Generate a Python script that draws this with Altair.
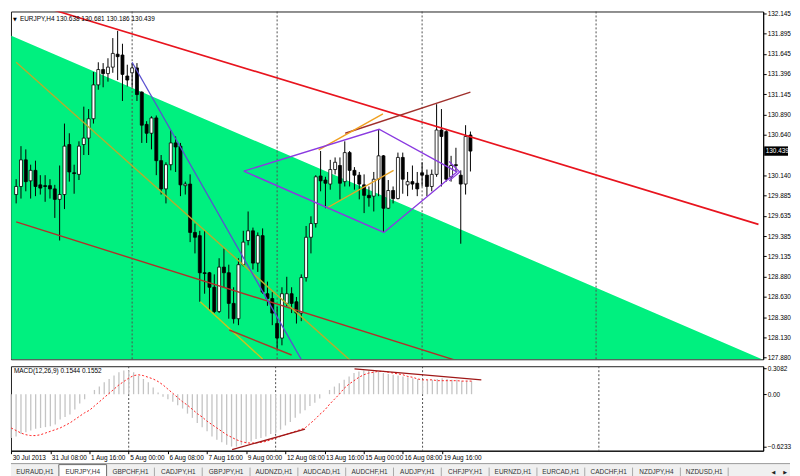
import json
import altair as alt
import pandas as pd

# ---------------- data ----------------
opens = [129.90, 130.00, 130.33, 130.07, 130.20, 130.02, 130.01, 130.01, 129.97, 129.84,
         129.90, 130.52, 130.17, 130.15, 130.52, 130.60, 130.84, 131.26, 131.45, 131.40,
         131.48, 131.64, 131.63, 131.37, 131.41, 131.47, 131.17, 130.77, 130.66, 130.85,
         130.32, 129.97, 130.27, 130.54, 130.50, 130.01, 130.03, 129.43, 129.39, 128.93,
         128.93, 128.75, 128.45, 129.00, 128.93, 128.55, 128.36, 129.03, 129.33, 129.45,
         129.05, 129.39, 128.67, 128.61, 128.30, 128.12, 128.55, 128.67, 128.57, 128.43,
         128.87, 129.37, 129.54, 130.13, 130.08, 130.03, 130.21, 130.26, 130.06, 130.42,
         130.20, 130.14, 130.02, 129.89, 129.88, 130.09, 130.38, 129.73, 129.95, 129.85,
         130.36, 130.02, 130.06, 130.04, 130.17, 130.14, 130.00, 130.15, 130.70, 130.68,
         130.12, 130.27, 130.14, 130.03, 130.638]
highs = [130.09, 130.50, 130.46, 130.27, 130.32, 130.14, 130.14, 130.09, 130.02, 130.26,
         130.78, 130.66, 130.27, 130.56, 130.99, 130.96, 131.42, 131.54, 131.53, 131.59,
         131.84, 131.93, 131.77, 131.51, 131.53, 131.53, 131.18, 130.81, 130.87, 130.88,
         130.39, 130.30, 130.70, 130.62, 130.54, 130.06, 130.15, 129.54, 129.45, 129.45,
         128.94, 128.91, 129.11, 129.23, 129.03, 128.75, 129.11, 129.45, 129.69, 129.49,
         129.43, 129.48, 128.82, 128.69, 128.51, 128.75, 128.88, 128.75, 128.63, 128.91,
         129.51, 129.63, 130.14, 130.44, 130.12, 130.33, 130.36, 130.36, 130.56, 130.44,
         130.24, 130.18, 130.15, 130.00, 130.18, 130.70, 130.39, 130.08, 130.00, 130.42,
         130.42, 130.18, 130.26, 130.18, 130.30, 130.21, 130.21, 131.02, 130.96, 130.70,
         130.38, 130.48, 130.20, 130.76, 130.681]
lows = [129.79, 129.85, 129.94, 129.85, 129.88, 129.90, 129.81, 129.85, 129.61, 129.33,
        129.72, 130.06, 129.91, 130.08, 130.39, 130.39, 130.78, 131.20, 131.23, 131.30,
        131.41, 131.32, 131.06, 131.24, 131.23, 131.06, 130.54, 130.54, 130.46, 130.14,
        129.90, 129.79, 130.20, 130.18, 129.88, 129.90, 129.31, 129.17, 128.57, 128.67,
        128.46, 128.43, 128.43, 128.75, 128.36, 128.30, 128.28, 129.01, 129.27, 128.97,
        128.94, 128.67, 128.52, 128.28, 127.98, 128.03, 128.51, 128.43, 128.30, 128.33,
        128.82, 129.17, 129.49, 129.94, 129.73, 129.96, 130.15, 129.84, 130.00, 130.00,
        129.96, 129.84, 129.67, 129.75, 129.69, 129.88, 129.43, 129.72, 129.79, 129.84,
        129.91, 129.88, 129.96, 129.88, 130.00, 129.88, 129.94, 130.12, 130.00, 130.06,
        130.06, 130.18, 129.29, 129.90, 130.186]
closes = [130.00, 130.33, 130.06, 130.20, 130.00, 129.98, 130.00, 129.97, 129.84, 129.90,
          130.50, 130.18, 130.16, 130.50, 130.60, 130.84, 131.26, 131.45, 131.40, 131.48,
          131.65, 131.61, 131.39, 131.32, 131.47, 131.14, 130.76, 130.66, 130.85, 130.32,
          129.97, 130.27, 130.54, 130.49, 130.02, 130.03, 129.43, 129.37, 128.93, 128.92,
          128.75, 128.45, 129.00, 128.93, 128.55, 128.36, 129.03, 129.31, 129.45, 129.05,
          129.39, 128.69, 128.61, 128.43, 128.12, 128.67, 128.67, 128.55, 128.43, 128.87,
          129.37, 129.54, 130.12, 130.07, 130.04, 130.21, 130.30, 130.04, 130.42, 130.20,
          130.14, 130.03, 129.89, 129.86, 130.09, 130.38, 129.73, 129.95, 129.85, 130.36,
          130.09, 130.06, 130.03, 129.97, 130.14, 130.00, 130.15, 130.70, 130.62, 130.09,
          130.26, 130.26, 130.03, 130.62, 130.439]

macd_main = [-0.52, -0.50, -0.47, -0.45, -0.43, -0.41, -0.40, -0.39, -0.38, -0.36,
             -0.30, -0.27, -0.24, -0.18, -0.11, -0.06, 0.00, 0.05, 0.09, 0.14,
             0.18, 0.22, 0.26, 0.28, 0.28, 0.26, 0.22, 0.18, 0.14, 0.08,
             0.02, -0.03, -0.06, -0.09, -0.13, -0.17, -0.23, -0.28, -0.34, -0.39,
             -0.44, -0.50, -0.54, -0.57, -0.60, -0.62, -0.62, -0.60, -0.58, -0.56,
             -0.53, -0.52, -0.50, -0.47, -0.46, -0.42, -0.37, -0.33, -0.28, -0.23,
             -0.19, -0.14, -0.10, -0.05, 0.00, 0.05, 0.09, 0.13, 0.17, 0.21,
             0.25, 0.27, 0.28, 0.28, 0.27, 0.27, 0.25, 0.24, 0.23, 0.22,
             0.21, 0.20, 0.19, 0.18, 0.17, 0.17, 0.17, 0.18, 0.19, 0.18,
             0.17, 0.17, 0.16, 0.16, 0.1544]
macd_signal = [-0.40, -0.43, -0.46, -0.48, -0.49, -0.49, -0.48, -0.46, -0.44, -0.42,
               -0.40, -0.37, -0.34, -0.30, -0.26, -0.22, -0.19, -0.14, -0.09, -0.04,
               0.01, 0.06, 0.11, 0.15, 0.19, 0.22, 0.23, 0.22, 0.20, 0.18,
               0.15, 0.11, 0.06, 0.01, -0.04, -0.09, -0.13, -0.18, -0.23, -0.27,
               -0.32, -0.36, -0.40, -0.44, -0.48, -0.51, -0.54, -0.56, -0.575, -0.58,
               -0.575, -0.57, -0.56, -0.54, -0.52, -0.50, -0.48, -0.46, -0.44, -0.42,
               -0.40, -0.35, -0.30, -0.24, -0.19, -0.12, -0.06, 0.00, 0.07, 0.12,
               0.16, 0.20, 0.23, 0.25, 0.26, 0.27, 0.27, 0.26, 0.25, 0.24,
               0.23, 0.21, 0.20, 0.18, 0.17, 0.17, 0.17, 0.16, 0.16, 0.16,
               0.16, 0.16, 0.155, 0.155, 0.1552]

price_ticks = [132.145, 131.895, 131.645, 131.396, 131.145, 130.890, 130.640,
               130.140, 129.885, 129.635, 129.385, 129.135, 128.880, 128.630, 128.380,
               128.130, 127.880]
macd_ticks = [0.3082, 0.0, -0.6233]
time_tick_bars = [0, 8, 16, 24, 32, 40, 48, 56, 64, 72, 80, 88]
time_tick_labels = ["30 Jul 2013", "31 Jul 08:00", "1 Aug 16:00", "5 Aug 00:00",
                    "6 Aug 08:00", "7 Aug 16:00", "9 Aug 00:00", "12 Aug 08:00",
                    "13 Aug 16:00", "15 Aug 00:00", "16 Aug 08:00", "19 Aug 16:00"]
separator_bars = [24, 54, 84, 120]
tab_names = ["EURAUD,H1", "EURJPY,H4", "GBPCHF,H1", "CADJPY,H1", "GBPJPY,H1",
             "AUDNZD,H1", "AUDCAD,H1", "AUDCHF,H1", "AUDJPY,H1", "CHFJPY,H1",
             "EURNZD,H1", "EURCAD,H1", "CADCHF,H1", "NZDJPY,H4", "NZDUSD,H1"]
active_tab = "EURJPY,H4"
last_price = 130.439
title_text = "EURJPY,H4  130.638 130.681 130.186 130.439"
macd_text = "MACD(12,26,9) 0.1544 0.1552"

# drawn objects: (bar index, price) points
green_edge = [(-1.0, 131.87), (155.0, 127.84)]
channel_top = [(0.0, 132.33), (153.6, 129.53)]
channel_bottom = [(0.0, 129.56), (95.4, 127.76)]
fan_line = [(0.0, 131.54), (70.7, 127.76)]
steep_line = [(24.0, 131.54), (59.9, 127.76)]
low_short_a = [(38.1, 128.57), (51.0, 127.86)]
low_short_b = [(44.1, 128.22), (57.0, 127.91)]
up_brown = [(68.1, 130.66), (94.0, 131.17)]
up_orange_a = [(62.6, 130.455), (75.9, 130.90)]
up_orange_b = [(64.2, 129.73), (78.1, 130.20)]
diamond = [(47.1, 130.19), (75.1, 130.71), (91.2, 130.18), (76.1, 129.43), (47.1, 130.19)]
wedge = [(89.6, 130.31), (91.8, 130.18), (89.6, 130.07)]
macd_line_a = [(45.1, -0.656), (60.0, -0.414)]
macd_line_b = [(70.1, 0.30), (96.0, 0.17)]

# ---------------- styling ----------------
GREEN = "#00F07F"
FONT = "Liberation Sans"
W, H1, H2 = 757, 350, 85
X_DOM = [-0.04, 153.55]
P_DOM = [127.857, 132.17]
M_DOM = [-0.669, 0.331]

line_styles = [
    ("channel_top", channel_top, "#E8141E", 1.6),
    ("channel_bottom", channel_bottom, "#B0302A", 1.4),
    ("fan_line", fan_line, "#B4AE2C", 1.4),
    ("steep_line", steep_line, "#5A50D0", 1.3),
    ("low_short_a", low_short_a, "#C8C41E", 1.4),
    ("low_short_b", low_short_b, "#A83A28", 1.4),
    ("up_brown", up_brown, "#A0302C", 1.4),
    ("up_orange_a", up_orange_a, "#F0A020", 1.4),
    ("up_orange_b", up_orange_b, "#E8A428", 1.4),
    ("diamond", diamond, "#8A3AE0", 1.4),
    ("wedge", wedge, "#8A3AE0", 1.2),
]

rows = []
for name, pts, col, w in line_styles:
    for k, (i, p) in enumerate(pts):
        rows.append({"seg": name, "k": k, "i": i, "p": p, "col": col, "w": w})
lines_df = pd.DataFrame(rows)

mrows = []
for name, pts in [("a", macd_line_a), ("b", macd_line_b)]:
    for k, (i, v) in enumerate(pts):
        mrows.append({"seg": name, "k": k, "i": i, "v": v})
mlines_df = pd.DataFrame(mrows)

n = len(opens)
cdf = pd.DataFrame({"i": list(range(n)), "o": opens, "h": highs, "l": lows, "c": closes})
cdf["fillc"] = ["white" if c >= o else "black" for o, c in zip(opens, closes)]
mdf = pd.DataFrame({"i": list(range(n)), "v": macd_main, "s": macd_signal})
gdf = pd.DataFrame({"i": [p[0] for p in green_edge], "p": [p[1] for p in green_edge]})
sdf = pd.DataFrame({"i": separator_bars})

xs = alt.Scale(domain=X_DOM, nice=False, zero=False)
ps = alt.Scale(domain=P_DOM, nice=False, zero=False)
ms = alt.Scale(domain=M_DOM, nice=False, zero=False)

price_axis = alt.Axis(orient="right", values=price_ticks, format=".3f", title=None, grid=False,
                      tickSize=3, labelPadding=1, labelFontSize=6.5, labelFont=FONT,
                      labelColor="black", domainColor="black", tickColor="black",
                      labelOverlap=False, labelFlush=False, zindex=0)
macd_axis = alt.Axis(orient="right", values=macd_ticks, title=None, grid=False,
                     labelExpr="datum.value == 0 ? '0.00' : format(datum.value, '.4f')",
                     tickSize=3, labelPadding=1, labelFontSize=6.5, labelFont=FONT,
                     labelColor="black", domainColor="black", tickColor="black",
                     labelOverlap=False, labelFlush=False)
time_axis = alt.Axis(orient="bottom", values=time_tick_bars, title=None, grid=False,
                     labelExpr=json.dumps(time_tick_labels) + "[indexof(" + json.dumps(time_tick_bars) + ", datum.value)]",
                     labelAlign="left", labelOffset=1, tickSize=3, labelPadding=1,
                     labelFontSize=6.5, labelFont=FONT, labelColor="black",
                     domainColor="black", tickColor="black", labelOverlap=False,
                     labelFlush=False, labelBound=False)


def XM(f):
    return alt.X(f"{f}:Q", scale=xs, axis=None)


def XB(f):
    return alt.X(f"{f}:Q", scale=xs, axis=time_axis)


def P(f):
    return alt.Y(f"{f}:Q", scale=ps, axis=price_axis)


def M(f):
    return alt.Y(f"{f}:Q", scale=ms, axis=macd_axis)


# ---------------- main pane ----------------
green = alt.Chart(gdf).mark_area(color=GREEN, clip=True).encode(
    x=XM("i"), y=P("p"), y2=alt.datum(P_DOM[0]))
seps = alt.Chart(sdf).mark_rule(color="#505050", strokeDash=[2, 2], strokeWidth=1).encode(x=XM("i"))
wicks = alt.Chart(cdf).mark_rule(color="black", strokeWidth=1).encode(x=XM("i"), y=P("l"), y2="h:Q")
bodies = alt.Chart(cdf).mark_bar(size=3, stroke="black", strokeWidth=0.8).encode(
    x=XM("i"), y=P("o"), y2="c:Q", fill=alt.Fill("fillc:N", scale=None))
tlines = alt.Chart(lines_df).mark_line(clip=True).encode(
    x=XM("i"), y=P("p"), color=alt.Color("col:N", scale=None), detail="seg:N",
    order="k:Q", strokeWidth=alt.StrokeWidth("w:Q", scale=None))
tdf = pd.DataFrame({"t": [title_text], "a": ["\u25BC"]})
title_l = alt.Chart(tdf).mark_text(align="left", baseline="middle", fontSize=6.5, font=FONT,
                                   color="black").encode(x=alt.value(9), y=alt.value(8), text="t:N")
arrow_l = alt.Chart(tdf).mark_text(align="left", baseline="middle", fontSize=5, font="DejaVu Sans",
                                   color="black").encode(x=alt.value(2), y=alt.value(8), text="a:N")
pl = alt.Chart(pd.DataFrame({"p": [last_price], "t": [f"{last_price:.3f}"]}))
pl_box = pl.transform_calculate(top="datum.p + 0.058", bot="datum.p - 0.058").mark_rect(
    color="black").encode(x=alt.value(W + 1), x2=alt.value(W + 25), y=P("top"), y2="bot:Q")
pl_txt = pl.mark_text(align="left", baseline="middle", fontSize=6.5, font=FONT, color="white").encode(
    x=alt.value(W + 2.5), y=P("p"), text="t:N")

main = alt.layer(green, seps, wicks, bodies, tlines, title_l, arrow_l, pl_box, pl_txt).properties(
    width=W, height=H1)

# ---------------- MACD pane ----------------
mseps = alt.Chart(sdf).mark_rule(color="#505050", strokeDash=[2, 2], strokeWidth=1).encode(x=XB("i"))
hist = alt.Chart(mdf).mark_rule(color="#C4C4C4", strokeWidth=1.3).encode(
    x=XB("i"), y=M("v"), y2=alt.datum(0))
sig = alt.Chart(mdf).mark_line(color="#FF2020", strokeDash=[2, 2], strokeWidth=1).encode(
    x=XB("i"), y=M("s"))
mtl = alt.Chart(mlines_df).mark_line(color="#A01818", strokeWidth=1.4, clip=True).encode(
    x=XB("i"), y=M("v"), detail="seg:N", order="k:Q")
mtxt = alt.Chart(pd.DataFrame({"t": [macd_text]})).mark_text(
    align="left", baseline="middle", fontSize=6.5, font=FONT, color="black").encode(
    x=alt.value(3), y=alt.value(5), text="t:N")
macd = alt.layer(mseps, hist, sig, mtl, mtxt).properties(width=W, height=H2)

# ---------------- symbol tabs ----------------
TW = 49.1
txs = alt.Scale(domain=[0, 800], nice=False, zero=False)
tys = alt.Scale(domain=[0, 17], nice=False, zero=False, reverse=True)
tab_df = pd.DataFrame({"name": tab_names, "k": list(range(len(tab_names)))})
tb = alt.Chart(tab_df).transform_calculate(
    left=f"datum.k * {TW}", right=f"datum.k * {TW} + {TW}", mid=f"datum.k * {TW} + {TW / 2}",
    top="1", bot="16.5", st="4", sb="14", ty="8.5")
bgdf = pd.DataFrame({"a": [0], "b": [800], "t": [0], "u": [17]})
tab_bg = alt.Chart(bgdf).mark_rect(color="#F0F0F0").encode(
    x=alt.X("a:Q", scale=txs, axis=None), x2="b:Q", y=alt.Y("t:Q", scale=tys, axis=None), y2="u:Q")
tab_top = alt.Chart(bgdf).mark_rule(color="#9A9A9A").encode(
    x=alt.X("a:Q", scale=txs, axis=None), x2="b:Q", y=alt.Y("t:Q", scale=tys, axis=None))
tab_act = tb.transform_filter(f"datum.name == '{active_tab}'").mark_rect(
    fill="white", stroke="#6A6A6A", strokeWidth=1).encode(
    x=alt.X("left:Q", scale=txs, axis=None), x2="right:Q",
    y=alt.Y("top:Q", scale=tys, axis=None), y2="bot:Q")
tab_sep = tb.transform_filter(f"datum.name != '{active_tab}'").mark_rule(color="#A8A8A8").encode(
    x=alt.X("right:Q", scale=txs, axis=None), y=alt.Y("st:Q", scale=tys, axis=None), y2="sb:Q")
tab_txt = tb.mark_text(fontSize=6.5, font=FONT, color="#333333", baseline="middle").encode(
    x=alt.X("mid:Q", scale=txs, axis=None), y=alt.Y("ty:Q", scale=tys, axis=None), text="name:N")
arr = alt.Chart(pd.DataFrame({"x": [783, 795], "y": [8.5, 8.5], "t": ["\u25C0", "\u25B6"]})).mark_text(
    fontSize=5, font="DejaVu Sans", color="#202020", baseline="middle").encode(
    x=alt.X("x:Q", scale=txs, axis=None), y=alt.Y("y:Q", scale=tys, axis=None), text="t:N")
tabs = alt.layer(tab_bg, tab_top, tab_act, tab_sep, tab_txt, arr).properties(
    width=784, height=17, view=alt.ViewBackground(stroke="transparent"))

chart = alt.vconcat(alt.vconcat(main, macd, spacing=2), tabs, spacing=1).properties(
    padding=0, background="white").configure_view(stroke="#202020", strokeWidth=1)

chart.save("out.html", embed_options={"renderer": "svg", "actions": False})
